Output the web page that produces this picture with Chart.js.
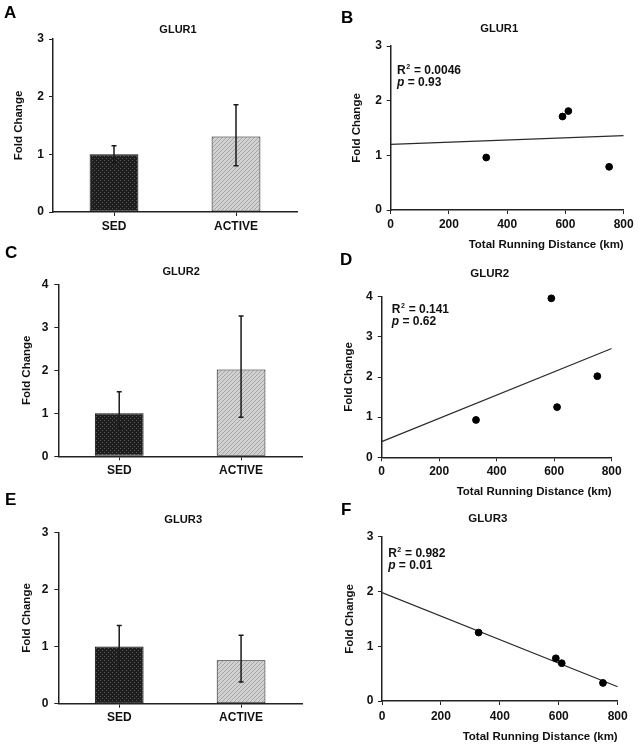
<!DOCTYPE html>
<html>
<head>
<meta charset="utf-8">
<title>GLUR fold change</title>
<script src="https://cdn.jsdelivr.net/npm/chart.js"></script>
<style>
  body { margin: 0; background: #fff; }
  #wrap { position: relative; width: 639px; height: 750px; overflow: hidden; }
  canvas { position: absolute; }
  .lbl { position: absolute; font: bold 17px 'Liberation Sans', Arial, sans-serif; line-height: 17px; color: #000; }
</style>
</head>
<body>
<div id="wrap">
  <canvas id="cA"></canvas>
  <canvas id="cB"></canvas>
  <canvas id="cC"></canvas>
  <canvas id="cD"></canvas>
  <canvas id="cE"></canvas>
  <canvas id="cF"></canvas>
  <div class="lbl" style="left:4px;top:4px">A</div>
  <div class="lbl" style="left:341px;top:9px">B</div>
  <div class="lbl" style="left:5px;top:244px">C</div>
  <div class="lbl" style="left:340px;top:251px">D</div>
  <div class="lbl" style="left:5px;top:491px">E</div>
  <div class="lbl" style="left:341px;top:501px">F</div>
</div>
<script>
// ---- data ----
const groups = ["SED", "ACTIVE"];

const glur1Mean = [1.0, 1.31];
const glur1Hi = [1.15, 1.86];
const glur1Lo = [0.85, 0.80];

const glur2Mean = [1.0, 2.02];
const glur2Hi = [1.50, 3.26];
const glur2Lo = [0.65, 0.91];

const glur3Mean = [1.0, 0.76];
const glur3Hi = [1.37, 1.20];
const glur3Lo = [0.60, 0.38];

// total running distance (km) of each active animal
const runKm = [328, 590, 610, 750];
const glur1Fold = [0.96, 1.71, 1.81, 0.79];
const glur2Fold = [0.93, 3.96, 1.25, 2.02];
const glur3Fold = [1.25, 0.78, 0.69, 0.33];

// regression lines, ends at 0 and 800 km
const fitKm = [0, 800];
const glur1Fit = [1.20, 1.36];
const glur2Fit = [0.39, 2.71];
const glur3Fit = [1.98, 0.26];

const glur1Stats = ["0.0046", "0.93"];
const glur2Stats = ["0.141", "0.62"];
const glur3Stats = ["0.982", "0.01"];

// ---- drawing ----
const FONT = "'Liberation Sans', Arial, Helvetica, sans-serif";
Chart.defaults.font.family = FONT;
Chart.defaults.font.weight = "bold";
Chart.defaults.font.size = 11.5;
Chart.defaults.color = "#111";
const LH = 11.5 * 1.2;

function makePattern(bg, fg, dots) {
  const c = document.createElement("canvas");
  c.width = 4; c.height = 4;
  const g = c.getContext("2d");
  g.fillStyle = bg; g.fillRect(0, 0, 4, 4);
  g.fillStyle = fg;
  dots.forEach(([x, y]) => g.fillRect(x, y, 1, 1));
  return g.createPattern(c, "repeat");
}
const darkFill = makePattern("#1e1e1e", "#575757", [[0, 0], [2, 2]]);
const lightFill = makePattern("#d2d2d2", "#a4a4a4", [[3, 0], [2, 1], [1, 2], [0, 3]]);

// error bars on top of bars
const errorBars = {
  id: "errorBars",
  afterDatasetsDraw(chart, args, o) {
    if (!o.hi) return;
    const { ctx, scales: { x, y } } = chart;
    ctx.save();
    ctx.strokeStyle = "#1a1a1a";
    ctx.lineWidth = 1.5;
    o.hi.forEach((h, i) => {
      const px = x.getPixelForValue(i);
      const yh = y.getPixelForValue(h);
      const yl = y.getPixelForValue(o.lo[i]);
      ctx.beginPath();
      ctx.moveTo(px, yl); ctx.lineTo(px, yh);
      ctx.moveTo(px - 2.5, yh); ctx.lineTo(px + 2.5, yh);
      ctx.moveTo(px - 2.5, yl); ctx.lineTo(px + 2.5, yl);
      ctx.stroke();
    });
    ctx.restore();
  }
};

// panel title and R2 / p text
const panelText = {
  id: "panelText",
  afterDraw(chart, args, o) {
    const { ctx, chartArea: a } = chart;
    ctx.save();
    ctx.fillStyle = "#111";
    ctx.textAlign = "center";
    ctx.textBaseline = "middle";
    ctx.font = `bold ${o.titleSize}px ${FONT}`;
    ctx.fillText(o.title, (a.left + a.right) / 2 + o.titleDx, a.top - o.titleGap);
    if (o.stats) {
      const px = chart.scales.x.getPixelForValue(o.at[0]);
      const py = chart.scales.y.getPixelForValue(o.at[1]);
      ctx.textAlign = "left";
      ctx.textBaseline = "alphabetic";
      ctx.font = `bold 12px ${FONT}`;
      ctx.fillText("R", px, py);
      const wR = ctx.measureText("R").width;
      ctx.font = `bold 7px ${FONT}`;
      ctx.fillText("2", px + wR + 0.5, py - 5);
      const w2 = ctx.measureText("2").width;
      ctx.font = `bold 12px ${FONT}`;
      ctx.fillText(" = " + o.stats[0], px + wR + w2 + 1, py);
      ctx.font = `italic bold 12px ${FONT}`;
      ctx.fillText("p", px, py + 12.5);
      const wp = ctx.measureText("p").width;
      ctx.font = `bold 12px ${FONT}`;
      ctx.fillText(" = " + o.stats[1], px + wp, py + 12.5);
    }
    ctx.restore();
  }
};

function axisLook(tickLen) {
  return {
    border: { display: true, color: "#222", width: 1.5 },
    grid: { display: true, drawOnChartArea: false, drawTicks: true, tickLength: tickLen, color: "#222", lineWidth: 1 }
  };
}

function place(id, p) {
  const cv = document.getElementById(id);
  cv.width = p.w; cv.height = p.h;
  cv.style.left = p.x0 + "px";
  cv.style.top = p.y0 + "px";
  return cv;
}

function yScale(p, max) {
  const look = axisLook(4);
  return {
    min: 0, max: max,
    ...look,
    ticks: { stepSize: 1, padding: p.yGap - 4, color: "#111", font: { size: 12 } },
    title: { display: true, text: "Fold Change", padding: { top: p.yTitleX - p.x0 - LH / 2, bottom: 0 } },
    afterFit: s => { s.width = p.L - p.x0; }
  };
}

function barPanel(id, p, title, mean, hi, lo, yMax) {
  const cv = place(id, p);
  const x = axisLook(4);
  x.grid.offset = false;
  return new Chart(cv, {
    type: "bar",
    data: {
      labels: groups,
      datasets: [{
        data: mean,
        backgroundColor: [darkFill, lightFill],
        borderColor: "#111",
        borderWidth: 1,
        borderSkipped: false,
        barPercentage: 0.4,
        categoryPercentage: 1
      }]
    },
    options: {
      responsive: false,
      animation: false,
      layout: { padding: { left: 0, top: p.T - p.y0, right: p.x0 + p.w - p.R, bottom: 0 } },
      plugins: {
        legend: { display: false },
        tooltip: { enabled: false },
        errorBars: { hi: hi, lo: lo },
        panelText: { title: title, titleSize: p.titleSize, titleDx: p.titleDx, titleGap: p.titleGap }
      },
      scales: {
        x: {
          ...x,
          ticks: { padding: p.xLabelY - p.B - 4 - 7.2, color: "#111", font: { size: 12 } },
          afterFit: s => { s.height = p.y0 + p.h - p.B; }
        },
        y: yScale(p, yMax)
      }
    },
    plugins: [errorBars, panelText]
  });
}

function scatterPanel(id, p, title, fold, fit, stats, yMax) {
  const cv = place(id, p);
  return new Chart(cv, {
    type: "scatter",
    data: {
      datasets: [
        {
          data: runKm.map((v, i) => ({ x: v, y: fold[i] })),
          backgroundColor: "#000",
          borderColor: "#000",
          pointRadius: 3.4,
          pointHoverRadius: 3.4,
          clip: false
        },
        {
          data: fitKm.map((v, i) => ({ x: v, y: fit[i] })),
          showLine: true,
          borderColor: "#2a2a2a",
          borderWidth: 1.2,
          pointRadius: 0
        }
      ]
    },
    options: {
      responsive: false,
      animation: false,
      layout: { padding: { left: 0, top: p.T - p.y0, right: p.x0 + p.w - p.R, bottom: 0 } },
      plugins: {
        legend: { display: false },
        tooltip: { enabled: false },
        panelText: { title: title, titleSize: p.titleSize, titleDx: p.titleDx, titleGap: p.titleGap, stats: stats, at: p.statsAt }
      },
      scales: {
        x: {
          type: "linear",
          min: 0, max: 800,
          ...axisLook(4),
          ticks: { stepSize: 200, padding: p.xLabelY - p.B - 4 - 7.2, color: "#111", font: { size: 12 } },
          title: { display: true, text: "Total Running Distance (km)", align: "end", padding: { top: 0, bottom: p.y0 + p.h - LH / 2 - p.xTitleY } },
          afterFit: s => { s.height = p.y0 + p.h - p.B; }
        },
        y: yScale(p, yMax)
      }
    },
    plugins: [panelText]
  });
}

// panel geometry (page pixels)
const layA = { x0: 0, y0: 0, w: 320, h: 245, L: 53, R: 297, T: 39, B: 212, yGap: 9, yTitleX: 18.7, xLabelY: 226.5, titleSize: 11, titleDx: 3, titleGap: 9 };
const layB = { x0: 320, y0: 0, w: 319, h: 256, L: 390.7, R: 623.7, T: 46, B: 210, yGap: 8.7, yTitleX: 356.7, xLabelY: 224.5, xTitleY: 245.3, titleSize: 11.2, titleDx: -8, titleGap: 17, statsAt: [22, 2.49] };
const layC = { x0: 0, y0: 248, w: 320, h: 238, L: 58.3, R: 302, T: 284.3, B: 456.3, yGap: 10, yTitleX: 27, xLabelY: 470.3, titleSize: 11, titleDx: 1, titleGap: 12 };
const layD = { x0: 320, y0: 256, w: 319, h: 244, L: 381.7, R: 611.7, T: 296.7, B: 457.3, yGap: 9, yTitleX: 348.7, xLabelY: 472, xTitleY: 492.3, titleSize: 11.5, titleDx: -7, titleGap: 22.7, statsAt: [35, 3.6] };
const layE = { x0: 0, y0: 500, w: 320, h: 250, L: 58.3, R: 302, T: 532.3, B: 703.7, yGap: 10, yTitleX: 27.2, xLabelY: 718, titleSize: 11.2, titleDx: 3, titleGap: 12.6 };
const layF = { x0: 320, y0: 500, w: 319, h: 250, L: 382, R: 617.7, T: 536.7, B: 701, yGap: 8.7, yTitleX: 349.7, xLabelY: 717, xTitleY: 736.7, titleSize: 11.5, titleDx: -12, titleGap: 17.5, statsAt: [21, 2.63] };

barPanel("cA", layA, "GLUR1", glur1Mean, glur1Hi, glur1Lo, 3);
scatterPanel("cB", layB, "GLUR1", glur1Fold, glur1Fit, glur1Stats, 3);
barPanel("cC", layC, "GLUR2", glur2Mean, glur2Hi, glur2Lo, 4);
scatterPanel("cD", layD, "GLUR2", glur2Fold, glur2Fit, glur2Stats, 4);
barPanel("cE", layE, "GLUR3", glur3Mean, glur3Hi, glur3Lo, 3);
scatterPanel("cF", layF, "GLUR3", glur3Fold, glur3Fit, glur3Stats, 3);
</script>
</body>
</html>
